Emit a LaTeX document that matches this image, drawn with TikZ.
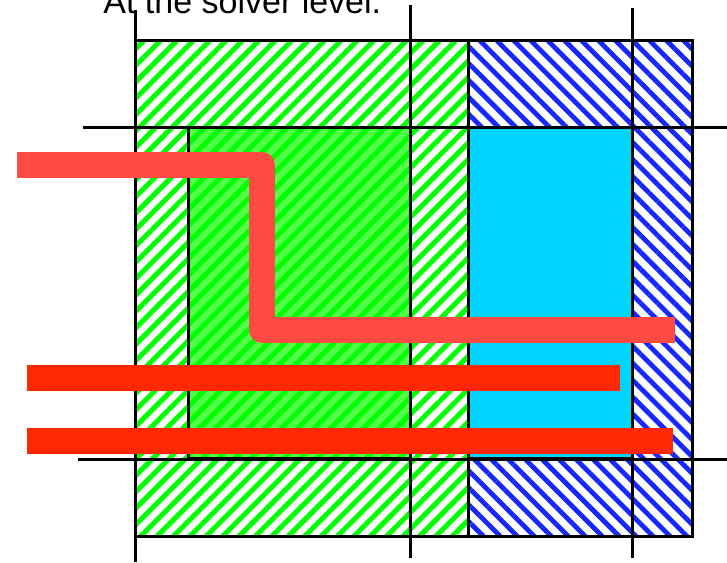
\documentclass[tikz,border=0pt]{standalone}
\usepackage{fontspec}
\setmainfont{Liberation Sans}
\usetikzlibrary{patterns.meta}

\definecolor{hatchgreen}{RGB}{0,255,0}
\definecolor{hatchblue}{RGB}{20,40,255}
\definecolor{fillgreen}{RGB}{80,255,70}
\definecolor{fillcyan}{RGB}{0,212,255}
\definecolor{pathred}{RGB}{255,75,65}
\definecolor{barred}{RGB}{255,40,0}

\tikzset{
  grid line/.style={black, line width=1.5pt},
  green hatch/.style={pattern={Lines[angle=45,distance=5.8pt,line width=2.5pt]}, pattern color=hatchgreen},
  blue hatch/.style={pattern={Lines[angle=-45,distance=6pt,line width=2.4pt]}, pattern color=hatchblue},
  route/.style={line width=13pt, line join=round},
}

\begin{document}
\begin{tikzpicture}[x=0.5pt, y=-0.5pt]
  \clip (0,0) rectangle (727,562);

  % title (cut off at the top)
  \node[anchor=base west, inner sep=0pt, font=\fontsize{17}{20}\selectfont] (title) at (103,13) {At the solver level.};

  % hatched halves
  \path[green hatch] (135,40) rectangle (468,536);
  \path[blue hatch] (468,40) rectangle (692,536);

  % inner blocks
  \fill[fillgreen] (188,127) rectangle (410,458);
  \path[green hatch] (188,127) rectangle (410,458);
  \fill[fillcyan] (468,127) rectangle (632,458);

  % block borders
  \draw[grid line] (135,40) rectangle (692,536);
  \draw[grid line] (468,40) -- (468,536);
  \draw[grid line] (188,127) rectangle (410,458);
  \draw[grid line] (468,127) rectangle (632,458);

  % cut lines
  \draw[grid line] (83,127) -- (727,127);
  \draw[grid line] (78,459) -- (727,459);
  \foreach \x/\top/\bot in {135/10/562, 410/5/558, 632/8/558}
    \draw[grid line] (\x,\top) -- (\x,\bot);

  % routes
  \draw[route, pathred] (17,165) -- (262,165) -- (262,330) -- (675,330);
  \draw[route, barred] (27,378) -- (620,378);
  \draw[route, barred] (27,441) -- (673,441);
\end{tikzpicture}
\end{document}
